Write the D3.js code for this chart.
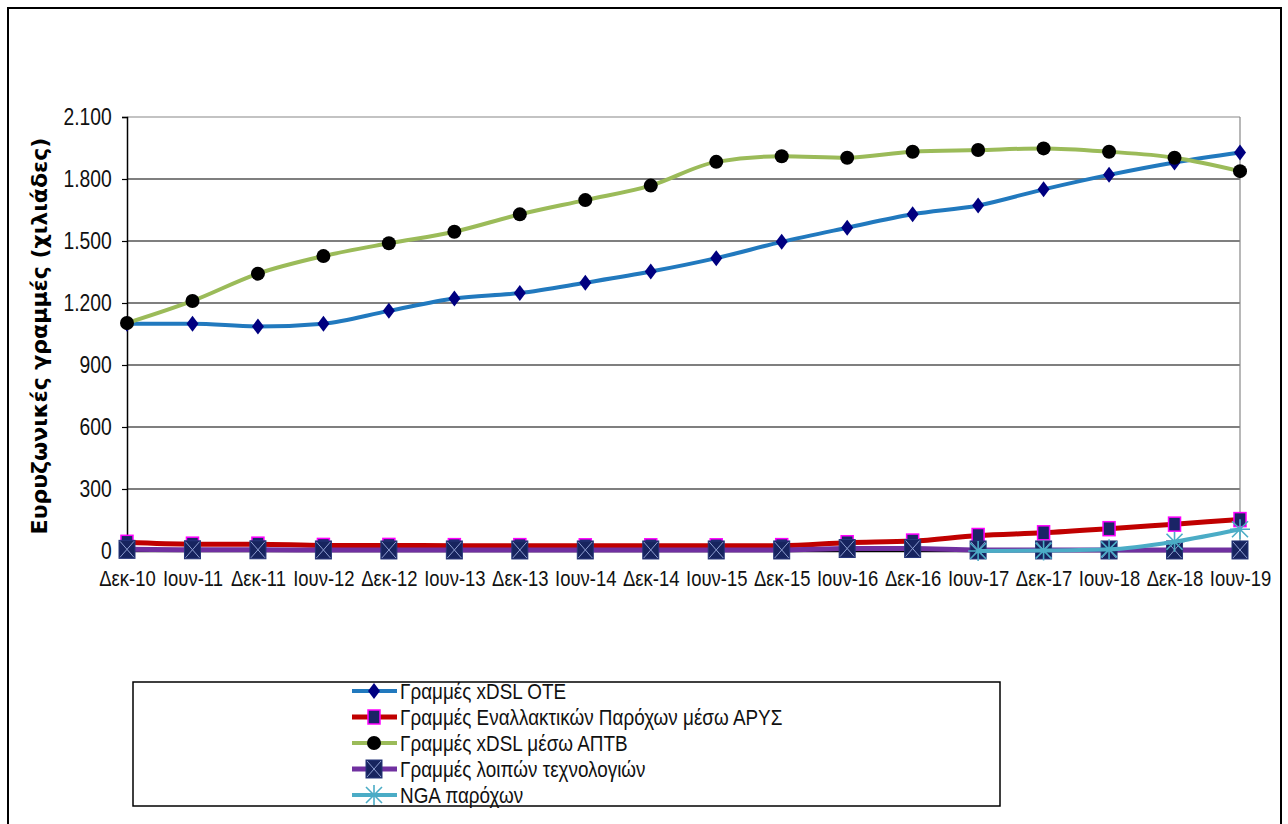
<!DOCTYPE html>
<html><head><meta charset="utf-8">
<script src="https://cdn.jsdelivr.net/npm/d3@7"></script>
<style>
html,body{margin:0;padding:0;background:#fff;}
svg{display:block;}
.narrow{font-family:"Liberation Sans Narrow","Arial Narrow","Liberation Sans",Arial,sans-serif;}
</style></head>
<body>
<svg id="chart" width="1288" height="824"></svg>
<script>
const categories = ["Δεκ-10","Ιουν-11","Δεκ-11","Ιουν-12","Δεκ-12","Ιουν-13","Δεκ-13","Ιουν-14","Δεκ-14","Ιουν-15","Δεκ-15","Ιουν-16","Δεκ-16","Ιουν-17","Δεκ-17","Ιουν-18","Δεκ-18","Ιουν-19"];
const xdslOTE   = [1100,1100,1086,1100,1162,1222,1248,1298,1352,1417,1496,1564,1629,1672,1750,1820,1880,1928];
const arysAlt   = [42,33,33,27,27,26,26,25,25,25,26,40,48,75,88,108,130,152];
const xdslAPTB  = [1103,1210,1342,1427,1489,1545,1629,1698,1768,1883,1910,1903,1932,1940,1948,1932,1903,1838];
const otherTech = [8,6,6,5,5,5,5,5,5,5,5,12,12,5,5,5,5,5];
const ngaProv   = [null,null,null,null,null,null,null,null,null,null,null,null,null,0,2,8,45,105];
const yTicks    = [0,300,600,900,1200,1500,1800,2100];
const seriesNames = ["Γραμμές xDSL ΟΤΕ","Γραμμές Εναλλακτικών Παρόχων μέσω ΑΡΥΣ","Γραμμές xDSL μέσω ΑΠΤΒ","Γραμμές λοιπών τεχνολογιών","NGA παρόχων"];
const yTitle = "Ευρυζωνικές γραμμές (χιλιάδες)";

const series = [
  {name:seriesNames[0], values:xdslOTE,   color:"#2179BE", marker:"diamond", width:4},
  {name:seriesNames[1], values:arysAlt,   color:"#C00000", marker:"square",  width:5},
  {name:seriesNames[2], values:xdslAPTB,  color:"#9BBB59", marker:"circle",  width:4},
  {name:seriesNames[3], values:otherTech, color:"#7030A0", marker:"xbox",    width:5},
  {name:seriesNames[4], values:ngaProv,   color:"#4BACC6", marker:"star",    width:4}
];

const NARROW = 0.84;
const svg = d3.select("#chart");
svg.append("rect").attr("width",1288).attr("height",824).attr("fill","#fff");
// outer frame
svg.append("rect").attr("x",8).attr("y",8).attr("width",1273).attr("height",840)
  .attr("fill","none").attr("stroke","#000").attr("stroke-width",2);

const L=127, R=1240, T=117, B=551;
const x = d3.scalePoint().domain(categories).range([L,R]);
const y = d3.scaleLinear().domain([0,2100]).range([B,T]);

// gridlines
svg.append("g").selectAll("line").data(yTicks.filter(d=>d>0)).join("line")
  .attr("x1",L).attr("x2",R).attr("y1",d=>y(d)).attr("y2",d=>y(d))
  .attr("stroke",d=>d===2100?"#888":"#000").attr("stroke-width",1.2);
// right border of plot area
svg.append("line").attr("x1",R).attr("x2",R).attr("y1",T).attr("y2",B)
  .attr("stroke","#888").attr("stroke-width",1.2);

// y axis
const yAxis = d3.axisLeft(y).tickValues(yTicks).tickSize(5).tickPadding(12)
  .tickFormat(d=>d3.format(",")(d).replace(/,/g,"."));
const gy = svg.append("g").attr("transform",`translate(${L},0)`).call(yAxis);
gy.select(".domain").attr("stroke","#000").attr("stroke-width",1.5);
gy.selectAll(".tick line").attr("stroke","#000").attr("stroke-width",1.2);
gy.selectAll(".tick text").attr("class","narrow").attr("font-size",23).attr("fill","#111")
  .attr("transform",`translate(-1,0) scale(${NARROW},1)`);

// x axis
const xAxis = d3.axisBottom(x).tickSize(0).tickPadding(19);
const gx = svg.append("g").attr("transform",`translate(0,${B})`).call(xAxis);
gx.select(".domain").attr("stroke","#000").attr("stroke-width",1.5);
gx.selectAll(".tick text").attr("class","narrow").attr("font-size",22).attr("fill","#111")
  .attr("transform",`scale(${NARROW},1)`);

// y title
svg.append("text").attr("transform",`translate(47,${(T+B)/2 + 2}) rotate(-90)`)
  .attr("text-anchor","middle").attr("font-family","DejaVu Sans, Verdana, sans-serif")
  .attr("font-weight","bold").attr("font-size",22).attr("fill","#000").text(yTitle);

function drawMarker(g, type, color){
  if(type==="diamond"){
    g.append("path").attr("d","M0,-8L6,0L0,8L-6,0Z").attr("fill","#000080");
  } else if(type==="square"){
    g.append("rect").attr("x",-6).attr("y",-7).attr("width",12).attr("height",14)
      .attr("fill","#1A2466").attr("stroke","#FF00FF").attr("stroke-width",1.5);
  } else if(type==="circle"){
    g.append("circle").attr("r",7).attr("fill","#000");
  } else if(type==="xbox"){
    g.append("rect").attr("x",-8).attr("y",-9).attr("width",16).attr("height",18)
      .attr("fill","#17245F").attr("stroke","#26367A").attr("stroke-width",1);
    g.append("path").attr("d","M-7,-8L7,8M7,-8L-7,8").attr("stroke","#8C9CD0").attr("stroke-width",1);
  } else if(type==="star"){
    g.append("path").attr("d","M0,-10L0,10M-8,-8L8,8M8,-8L-8,8M-10,0L10,0")
      .attr("stroke",color).attr("stroke-width",1.6).attr("fill","none");
  }
}

const line = d3.line().defined(d=>d.v!=null).x(d=>x(d.c)).y(d=>y(d.v)).curve(d3.curveMonotoneX);

series.forEach(s=>{
  const pts = categories.map((c,i)=>({c, v:s.values[i]}));
  svg.append("path").datum(pts).attr("d",line).attr("fill","none")
    .attr("stroke",s.color).attr("stroke-width",s.width).attr("stroke-linejoin","round");
  const mg = svg.append("g");
  pts.filter(d=>d.v!=null).forEach(d=>{
    const g = mg.append("g").attr("transform",`translate(${x(d.c)},${y(d.v)})`);
    drawMarker(g, s.marker, s.color);
  });
});

// legend
svg.append("rect").attr("x",133).attr("y",682).attr("width",867).attr("height",124)
  .attr("fill","#fff").attr("stroke","#000").attr("stroke-width",1.5);
const lg = svg.append("g");
series.forEach((s,i)=>{
  const cy = 691 + i*26;
  lg.append("line").attr("x1",352).attr("x2",397).attr("y1",cy).attr("y2",cy)
    .attr("stroke",s.color).attr("stroke-width",s.width);
  drawMarker(lg.append("g").attr("transform",`translate(374,${cy})`), s.marker, s.color);
  lg.append("text").attr("class","narrow").attr("transform",`translate(400,${cy}) scale(${NARROW},1)`)
    .attr("dy","0.35em").attr("font-size",22.5).attr("fill","#111").text(s.name);
});
</script>
</body></html>
